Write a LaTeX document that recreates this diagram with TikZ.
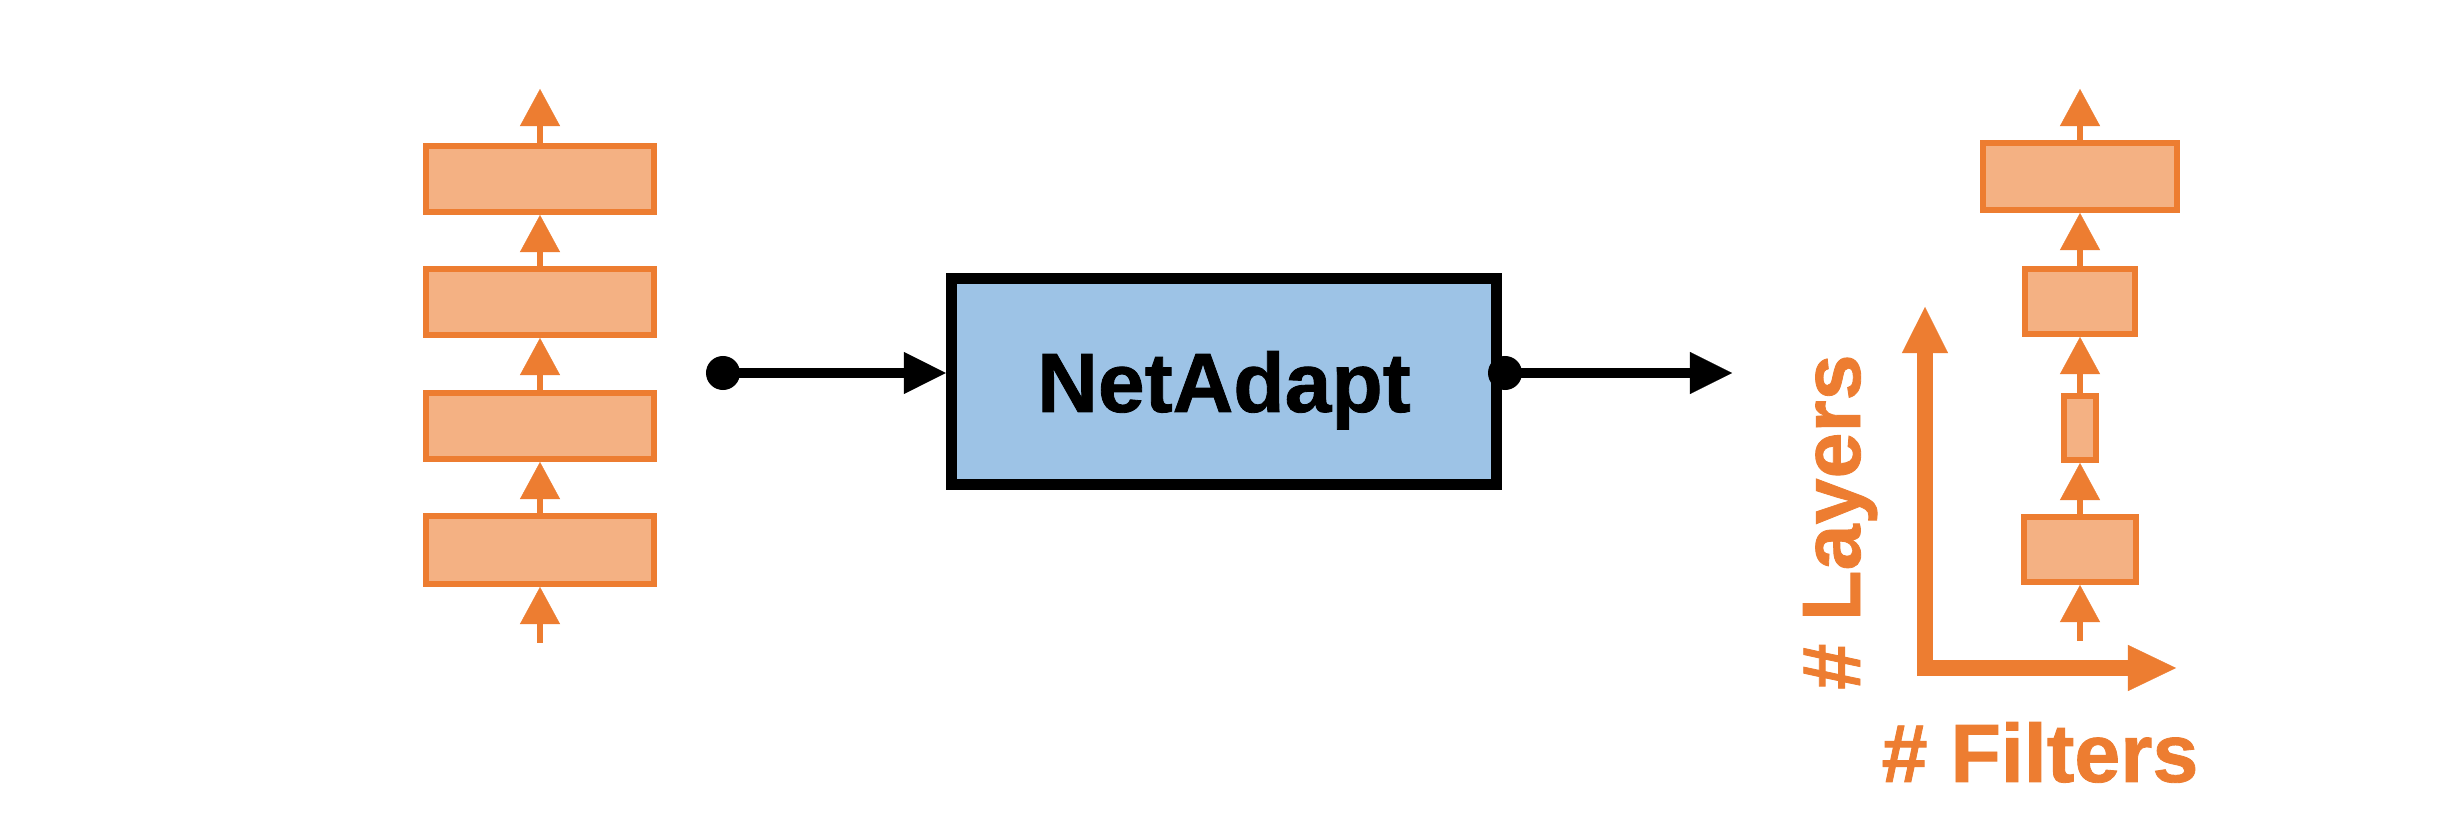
\documentclass[tikz,border=0pt]{standalone}
\usepackage{fontspec}
\setmainfont{Liberation Sans}[BoldFeatures={FakeBold=1}]
\usetikzlibrary{arrows.meta}
\definecolor{oline}{HTML}{ED7D31}
\definecolor{ofill}{HTML}{F4B183}
\definecolor{bfill}{HTML}{9DC3E6}
\begin{document}
\begin{tikzpicture}[x=0.01cm,y=-0.01cm,
  layer/.style={draw=oline, fill=ofill, line width=0.06cm, inner sep=0pt, minimum height=0.66cm},
  oarr/.style={draw=oline, line width=0.06cm, -{Triangle[width=0.40cm,length=0.37cm,line width=0.1pt]}},
  barr/.style={draw=black, line width=0.10cm, -{Triangle[width=0.42cm,length=0.42cm,line width=0.1pt]}},
  axisarr/.style={draw=oline, line width=0.16cm, {Triangle[width=0.46cm,length=0.46cm,line width=0.1pt]}-{Triangle[width=0.46cm,length=0.48cm,line width=0.1pt]}},
  dotnode/.style={circle, fill=black, inner sep=0pt, minimum size=0.34cm},
  olabel/.style={text=oline, font=\fontsize{23.5pt}{28pt}\selectfont\bfseries, inner sep=0pt}
]
\fill[white] (0,0) rectangle (2460,825);
\useasboundingbox (0,0) rectangle (2460,825);

% left stack
\node[layer, minimum width=2.28cm] (b1) at (540,179) {};
\node[layer, minimum width=2.28cm] (b2) at (540,302) {};
\node[layer, minimum width=2.28cm] (b3) at (540,426) {};
\node[layer, minimum width=2.28cm, minimum height=0.68cm] (b4) at (540,550) {};
\coordinate (ltop) at (540,89);
\coordinate (lbot) at (540,643);
\draw[oarr] (b1.north) -- (ltop);
\draw[oarr] (b2.north) -- (b1.south);
\draw[oarr] (b3.north) -- (b2.south);
\draw[oarr] (b4.north) -- (b3.south);
\draw[oarr] (lbot) -- (b4.south);

% center block
\node[draw=black, fill=bfill, line width=0.11cm, minimum width=5.45cm, minimum height=2.06cm,
      inner sep=0pt, text depth=0pt, font=\fontsize{23.9pt}{28pt}\selectfont\bfseries] (box) at (1224,381.5) {NetAdapt};
\node[dotnode] (ldot) at (723,373) {};
\node[dotnode] (rdot) at (1505,373) {};
\coordinate (rend) at (1732,373);
\draw[barr] (ldot.center) -- (ldot.center -| box.west);
\draw[barr] (rdot.center) -- (rend);

% right stack
\node[layer, minimum width=1.94cm, minimum height=0.67cm] (r1) at (2080,176.5) {};
\node[layer, minimum width=1.10cm, minimum height=0.65cm] (r2) at (2080,301.5) {};
\node[layer, minimum width=0.32cm, minimum height=0.64cm] (r3) at (2080,428) {};
\node[layer, minimum width=1.12cm, minimum height=0.65cm] (r4) at (2080,549.5) {};
\coordinate (rtop) at (2080,89);
\coordinate (rbot) at (2080,641);
\draw[oarr] (r1.north) -- (rtop);
\draw[oarr] (r2.north) -- (r1.south);
\draw[oarr] (r3.north) -- (r2.south);
\draw[oarr] (r4.north) -- (r3.south);
\draw[oarr] (rbot) -- (r4.south);

% axes
\coordinate (ytip) at (1925,307);
\coordinate (corner) at (1925,668);
\coordinate (xtip) at (2176,668);
\draw[axisarr] (ytip) -- (corner) -- (xtip);
\node[olabel, rotate=90, anchor=base] (ylab) at (1860,522) {\# Layers};
\node[olabel, anchor=base] (xlab) at (2040,782) {\# Filters};
\end{tikzpicture}
\end{document}
